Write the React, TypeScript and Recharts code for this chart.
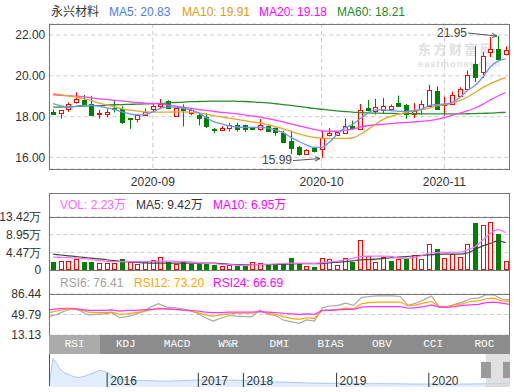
import React from 'react';
import {
  ComposedChart,
  AreaChart,
  Area,
  Bar,
  Line,
  XAxis,
  YAxis,
  CartesianGrid,
  ReferenceLine,
  ReferenceArea,
} from 'recharts';

// trading days shown in the window
const dates = [
  '2020-08-13', '2020-08-14', '2020-08-17', '2020-08-18', '2020-08-19', '2020-08-20', '2020-08-21', '2020-08-24',
  '2020-08-25', '2020-08-26', '2020-08-27', '2020-08-28', '2020-08-31', '2020-09-01', '2020-09-02', '2020-09-03',
  '2020-09-04', '2020-09-07', '2020-09-08', '2020-09-09', '2020-09-10', '2020-09-11', '2020-09-14', '2020-09-15',
  '2020-09-16', '2020-09-17', '2020-09-18', '2020-09-21', '2020-09-22', '2020-09-23', '2020-09-24', '2020-09-25',
  '2020-09-28', '2020-09-29', '2020-09-30', '2020-10-09', '2020-10-12', '2020-10-13', '2020-10-14', '2020-10-15',
  '2020-10-16', '2020-10-19', '2020-10-20', '2020-10-21', '2020-10-22', '2020-10-23', '2020-10-26', '2020-10-27',
  '2020-10-28', '2020-10-29', '2020-10-30', '2020-11-02', '2020-11-03', '2020-11-04', '2020-11-05', '2020-11-06',
  '2020-11-09', '2020-11-10', '2020-11-11', '2020-11-12',
];

const opens = [
  18.23, 18.17, 18.35, 18.71, 18.79, 18.64, 18.13, 18.15, 18.4, 18.35,
  17.92, 17.88, 18.07, 18.35, 18.51, 18.78, 18.02, 18.43, 18.18, 18.07,
  17.98, 17.39, 17.34, 17.45, 17.6, 17.6, 17.44, 17.39, 17.54, 17.42,
  17.18, 16.82, 16.52, 16.16, 16.46, 16.41, 17.1, 17.1, 17.19, 17.56,
  17.39, 18.43, 18.26, 18.33, 18.38, 18.67, 18.57, 18.13, 18.38, 18.5,
  19.25, 18.56, 18.62, 19.03, 19.36, 20.59, 20.18, 21.16, 21.3, 21.05,
];
const closes = [
  18.13, 18.3, 18.63, 18.84, 18.6, 18.1, 18.2, 18.23, 18.36, 17.72,
  17.88, 18.1, 18.23, 18.51, 18.64, 18.43, 18.4, 18.3, 18.3, 17.93,
  17.52, 17.34, 17.45, 17.6, 17.4, 17.39, 17.37, 17.59, 17.29, 17.26,
  16.74, 16.44, 16.16, 16.38, 16.29, 16.95, 17.18, 17.24, 17.55, 17.44,
  18.33, 18.33, 18.46, 18.52, 18.52, 18.54, 18.13, 18.26, 18.62, 19.3,
  18.36, 18.62, 19.07, 19.33, 20.02, 19.93, 20.98, 21.33, 20.8, 21.28,
];
const highs = [
  18.35, 18.31, 18.69, 19.19, 19.06, 19.02, 18.33, 18.38, 18.82, 18.51,
  17.93, 18.13, 18.4, 18.66, 18.86, 18.8, 18.43, 18.6, 18.43, 18.18,
  18.18, 17.44, 17.54, 17.7, 17.7, 17.6, 17.5, 17.88, 17.59, 17.47,
  17.31, 17.31, 16.57, 16.4, 16.52, 17.31, 17.44, 17.26, 17.91, 17.8,
  18.62, 18.82, 18.87, 18.92, 18.59, 19.03, 18.62, 18.66, 18.79, 19.56,
  19.48, 18.98, 19.23, 19.44, 20.26, 21.44, 21.16, 21.9, 21.95, 21.44,
];
const lows = [
  18.07, 17.9, 18.23, 18.64, 18.55, 18.07, 17.9, 17.97, 18.2, 17.64,
  17.4, 17.72, 18.02, 18.23, 18.38, 18.4, 18.0, 17.52, 18.07, 17.57,
  17.44, 17.19, 17.3, 17.27, 17.27, 17.24, 17.34, 17.31, 17.26, 17.06,
  16.7, 16.16, 16.08, 16.14, 16.24, 15.99, 17.03, 17.05, 17.18, 17.34,
  17.34, 18.26, 18.1, 18.13, 18.26, 18.46, 17.89, 17.93, 18.1, 18.48,
  18.33, 18.05, 18.59, 19.02, 19.28, 19.69, 19.9, 20.92, 20.75, 21.0,
];

const ma5 = [
  18.63, 18.53, 18.46, 18.5, 18.55, 18.55, 18.51, 18.43, 18.35, 18.23,
  18.13, 18.08, 18.1, 18.23, 18.4, 18.46, 18.46, 18.4, 18.33, 18.18,
  17.93, 17.74, 17.64, 17.55, 17.49, 17.47, 17.47, 17.48, 17.43, 17.34,
  17.21, 16.98, 16.79, 16.61, 16.49, 16.49, 16.74, 17.11, 17.44, 17.61,
  17.89, 18.16, 18.33, 18.33, 18.3, 18.26, 18.26, 18.3, 18.36, 18.54,
  18.59, 18.62, 18.69, 18.92, 19.28, 19.52, 19.93, 20.43, 20.72, 20.83,
];
const ma10 = [
  19.12, 19.07, 19.01, 18.96, 18.88, 18.78, 18.66, 18.57, 18.48, 18.38,
  18.32, 18.27, 18.23, 18.22, 18.22, 18.22, 18.23, 18.23, 18.21, 18.18,
  18.12, 18.05, 17.98, 17.92, 17.86, 17.8, 17.74, 17.69, 17.6, 17.5,
  17.4, 17.28, 17.16, 17.05, 16.98, 16.94, 16.93, 16.93, 16.93, 16.95,
  17.12, 17.36, 17.62, 17.85, 18.0, 18.12, 18.2, 18.27, 18.32, 18.42,
  18.52, 18.58, 18.66, 18.78, 18.95, 19.18, 19.42, 19.62, 19.78, 19.91,
];
const ma20 = [
  19.06, 19.04, 19.02, 19.0, 18.97, 18.92, 18.87, 18.84, 18.8, 18.77,
  18.72, 18.69, 18.66, 18.64, 18.62, 18.56, 18.51, 18.45, 18.4, 18.34,
  18.3, 18.25, 18.21, 18.17, 18.13, 18.08, 18.03, 17.97, 17.9, 17.82,
  17.74, 17.64, 17.55, 17.46, 17.37, 17.3, 17.28, 17.28, 17.32, 17.38,
  17.48, 17.55, 17.6, 17.62, 17.65, 17.69, 17.71, 17.74, 17.77, 17.8,
  17.86, 17.95, 18.06, 18.17, 18.28, 18.42, 18.6, 18.82, 19.01, 19.18,
];
const ma60 = [
  18.46, 18.47, 18.48, 18.5, 18.52, 18.53, 18.54, 18.56, 18.58, 18.59,
  18.6, 18.61, 18.62, 18.64, 18.65, 18.67, 18.69, 18.71, 18.73, 18.74,
  18.75, 18.76, 18.76, 18.76, 18.75, 18.74, 18.72, 18.7, 18.67, 18.63,
  18.59, 18.55, 18.5, 18.45, 18.4, 18.36, 18.32, 18.28, 18.25, 18.22,
  18.2, 18.18, 18.17, 18.16, 18.16, 18.15, 18.15, 18.14, 18.14, 18.13,
  18.13, 18.13, 18.13, 18.13, 18.14, 18.15, 18.16, 18.17, 18.19, 18.21,
];

// volume in 万 shares, with bar colour (1 = red hollow, 0 = green)
const volumes = [
  2.08, 2.25, 2.25, 2.75, 2.08, 2.08, 1.75, 1.75, 1.67, 2.84,
  1.92, 1.5, 1.92, 2.5, 3.25, 1.92, 1.5, 2.08, 1.58, 1.58,
  1.58, 1.33, 1.0, 1.25, 1.08, 1.08, 2.0, 1.75, 1.42, 1.42,
  1.83, 3.09, 1.58, 1.0, 0.83, 3.0, 2.84, 1.33, 3.0, 2.0,
  7.59, 3.42, 2.0, 3.34, 2.34, 2.84, 2.75, 3.75, 2.84, 6.5,
  5.34, 3.09, 4.0, 3.34, 6.5, 11.84, 11.5, 12.1, 9.09, 2.23,
];
const volUp = [
  0, 1, 1, 1, 0, 0, 1, 1, 1, 0,
  1, 1, 1, 1, 1, 0, 1, 0, 0, 0,
  0, 0, 1, 1, 0, 0, 1, 1, 0, 0,
  0, 0, 0, 1, 0, 1, 1, 1, 1, 0,
  1, 1, 1, 1, 0, 1, 0, 1, 1, 1,
  0, 1, 1, 1, 1, 0, 1, 1, 0, 1,
];
const volMa5 = [
  3.25, 3.2, 3.1, 3.0, 2.9, 2.6, 2.4, 2.2, 2.1, 2.1,
  2.1, 2.1, 2.1, 2.2, 2.25, 2.25, 2.2, 2.17, 2.0, 1.85,
  1.7, 1.6, 1.45, 1.35, 1.25, 1.2, 1.3, 1.4, 1.45, 1.55,
  1.65, 1.75, 1.75, 1.75, 1.7, 1.85, 2.05, 2.2, 2.6, 2.9,
  3.4, 3.5, 3.5, 3.5, 3.45, 3.0, 2.95, 3.15, 3.6, 4.3,
  4.42, 4.45, 4.5, 4.5, 5.1, 5.9, 7.6, 9.26, 10.2, 9.42,
];
const volMa10 = [
  4.0, 3.8, 3.6, 3.4, 3.2, 3.0, 2.8, 2.6, 2.35, 2.15,
  2.0, 1.9, 1.8, 1.75, 1.75, 1.75, 1.75, 1.75, 1.75, 1.75,
  1.75, 1.72, 1.6, 1.45, 1.38, 1.33, 1.33, 1.33, 1.35, 1.38,
  1.45, 1.55, 1.58, 1.58, 1.58, 1.62, 1.8, 1.95, 2.1, 2.3,
  2.55, 2.65, 2.75, 2.9, 3.1, 3.25, 3.4, 3.55, 3.7, 3.84,
  3.95, 4.0, 4.0, 4.0, 4.3, 5.2, 6.1, 6.76, 7.3, 6.95,
];

const rsi6 = [
  46, 50, 56, 60, 56, 49, 50, 51, 53, 44,
  46, 50, 55, 63, 69, 63, 62, 60, 57, 52,
  44, 38, 43, 48, 47, 46, 46, 58, 50, 48,
  40, 37, 34, 40, 38, 62, 65, 66, 70, 66,
  80, 82, 83, 83, 83, 82, 66, 70, 76, 83,
  63, 63, 68, 72, 78, 79, 85, 85, 77, 76.41,
];
const rsi12 = [
  53, 56, 59, 60, 58, 54, 53, 53, 54, 50,
  51, 53, 55, 58, 61, 60, 59, 58, 56, 53,
  49, 47, 49, 51, 52, 52, 52, 56, 52, 50,
  46, 43, 41, 44, 43, 57, 58, 59, 61, 60,
  69, 71, 72, 72, 72, 72, 65, 67, 70, 73,
  64, 64, 67, 69, 73, 74, 78, 79, 74, 73.2,
];
const rsi24 = [
  58, 60, 61, 61, 59, 57, 57, 57, 58, 56,
  57, 57, 58, 59, 60, 60, 59, 58, 57, 56,
  54, 53, 53, 54, 54, 54, 54, 55, 54, 53,
  52, 51, 50, 51, 50, 57, 57, 58, 59, 59,
  63, 64, 64, 64, 64, 64, 61, 62, 64, 67,
  63, 63, 64, 66, 67, 68, 71, 72, 70, 68,
];

// long-range overview strip (position along the strip, relative level)
const navPos = [
  0, 0.4, 0.8, 1.1, 1.5, 2, 2.5, 3, 3.5, 4, 4.5, 5, 5.5, 6, 6.5, 7, 8, 9, 10, 11, 12, 13, 14, 15,
  16, 17, 18, 19, 20, 22, 24, 26, 28, 30, 32, 34, 36, 38, 40, 42, 44, 45, 46,
];
const navLevel = [
  4, 87, 70, 54, 44, 37, 31, 29, 32, 38, 44, 50, 48, 41, 31, 25, 21, 20, 19, 18, 18, 19, 20, 21,
  21, 21, 21, 20, 19, 16, 14, 12, 11, 11, 10, 10, 9, 9, 9, 9, 10, 11, 12,
];
const navYears = ['2016', '2017', '2018', '2019', '2020'];
const navYearPos = [5.8, 14.9, 19.4, 28.7, 37.9];

const monthTicks = ['2020-09-01', '2020-10-09', '2020-11-02'];
const priceTicks = [16, 18, 20, 22];
const volTicks = [0, 4.47, 8.95, 13.42];
const rsiTicks = [13.13, 49.79, 86.44];
const tabs = ['RSI', 'KDJ', 'MACD', 'W%R', 'DMI', 'BIAS', 'OBV', 'CCI', 'ROC'];

const RED = '#ff0000';
const GREEN = '#008000';
const FRAME = '#777';
const GRID = '#ccc';
const FONT = 'Arial, "Liberation Sans", sans-serif';
const CJK = 'Arial, "Liberation Sans", "Noto Sans CJK SC", sans-serif';

const rows = dates.map((date, i) => ({
  date,
  open: opens[i],
  high: highs[i],
  low: lows[i],
  close: closes[i],
  ma5: ma5[i],
  ma10: ma10[i],
  ma20: ma20[i],
  ma60: ma60[i],
  vol: volumes[i],
  up: volUp[i] === 1,
  vma5: volMa5[i],
  vma10: volMa10[i],
  rsi6: rsi6[i],
  rsi12: rsi12[i],
  rsi24: rsi24[i],
}));

const navData = navPos.map((t, i) => ({ t, v: navLevel[i] }));

const maxHigh = Math.max(...highs);
const minLow = Math.min(...lows);

function Candle(props: any) {
  const { x, y, width, height, payload } = props;
  if (!payload || height == null) return null;
  const { open, close, high, low } = payload;
  const top = Math.min(y, y + height);
  const k = Math.abs(height) / (high - low || 1);
  const py = (v: number) => top + (high - v) * k;
  const cx = Math.round(x + width / 2);
  const up = close >= open;
  const c = up ? RED : GREEN;
  const yH = py(high);
  const yL = py(low);
  const bt = Math.round(py(Math.max(open, close)));
  const bb = Math.max(Math.round(py(Math.min(open, close))), bt + 1);

  return (
    <g>
      {up ? (
        <>
          <line x1={cx + 0.5} x2={cx + 0.5} y1={yH} y2={bt} stroke={c} />
          <line x1={cx + 0.5} x2={cx + 0.5} y1={bb} y2={yL} stroke={c} />
          <rect x={cx - 1.5} y={bt + 0.5} width={4} height={bb - bt} fill="#fff" stroke={c} />
        </>
      ) : (
        <>
          <line x1={cx + 0.5} x2={cx + 0.5} y1={yH} y2={yL} stroke={c} />
          <rect x={cx - 2} y={bt} width={5} height={bb - bt + 1} fill={c} />
        </>
      )}
      {high === maxHigh && (
        <g stroke="#555" fill="none">
          <line x1={cx - 30} y1={yH - 3} x2={cx - 1} y2={yH} />
          <polyline points={`${cx - 6},${yH - 3} ${cx - 1},${yH} ${cx - 6},${yH + 1.5}`} />
          <text x={cx - 31} y={yH + 1} textAnchor="end" fontSize={12} fill="#444" stroke="none" fontFamily={FONT}>
            {high.toFixed(2)}
          </text>
        </g>
      )}
      {low === minLow && (
        <g stroke="#555" fill="none">
          <line x1={cx - 29} y1={yL + 3} x2={cx - 2} y2={yL + 1} />
          <polyline points={`${cx - 7},${yL - 1} ${cx - 2},${yL + 1} ${cx - 7},${yL + 3.5}`} />
          <text x={cx - 30} y={yL + 6} textAnchor="end" fontSize={12} fill="#444" stroke="none" fontFamily={FONT}>
            {low.toFixed(2)}
          </text>
        </g>
      )}
    </g>
  );
}

function VolBar(props: any) {
  const { x, y, width, height, payload } = props;
  if (!payload || height == null) return null;
  const cx = Math.round(x + width / 2);
  const top = Math.round(y);
  const bottom = Math.round(y + height);
  if (payload.up) {
    return (
      <rect x={cx - 1.5} y={top + 0.5} width={4} height={Math.max(bottom - top - 1, 1)} fill="#fff" stroke={RED} />
    );
  }
  return <rect x={cx - 2} y={top} width={5} height={bottom - top} fill={GREEN} />;
}

function YearLabel(props: any) {
  const { viewBox, value } = props;
  if (!viewBox) return null;
  return (
    <text x={viewBox.x + 3} y={viewBox.y + viewBox.height - 2} fontSize={12} fill="#333" fontFamily={FONT}>
      {value}
    </text>
  );
}

const tickStyle = { fill: '#333', fontSize: 12, fontFamily: FONT };

function Label({ left, top, color, children }: { left: number; top: number; color: string; children: React.ReactNode }) {
  return (
    <span
      style={{
        position: 'absolute',
        left,
        top,
        color,
        fontSize: 12,
        lineHeight: '14px',
        whiteSpace: 'nowrap',
        fontFamily: CJK,
      }}
    >
      {children}
    </span>
  );
}

function HLine({ top }: { top: number }) {
  return <div style={{ position: 'absolute', left: 49, top, width: 461, height: 1, background: FRAME }} />;
}

export default function App() {
  return (
    <div
      style={{
        position: 'absolute',
        left: 0,
        top: 0,
        width: 514,
        height: 392,
        background: '#fff',
        overflow: 'hidden',
        fontFamily: FONT,
      }}
    >
      {/* watermark */}
      <div
        style={{
          position: 'absolute',
          left: 418,
          top: 42,
          fontSize: 13,
          fontWeight: 'bold',
          letterSpacing: 2.5,
          color: '#e0e0e0',
          fontFamily: '"Noto Sans CJK SC", sans-serif',
          lineHeight: '13px',
        }}
      >
        东方财富网
      </div>
      <div
        style={{
          position: 'absolute',
          left: 418,
          top: 59,
          fontSize: 9.5,
          fontWeight: 'bold',
          letterSpacing: 0.9,
          color: '#e0e0e0',
          lineHeight: '9px',
        }}
      >
        eastmoney.com
      </div>

      {/* title row */}
      <Label left={51} top={5} color="#333">永兴材料</Label>
      <Label left={109} top={5} color="#4d7cf6">MA5: 20.83</Label>
      <Label left={182} top={5} color="#e39a12">MA10: 19.91</Label>
      <Label left={259} top={5} color="#f0f">MA20: 19.18</Label>
      <Label left={337} top={5} color="#1a8a1a">MA60: 18.21</Label>

      {/* price panel */}
      <div style={{ position: 'absolute', left: 0, top: 0 }}>
        <ComposedChart width={514} height={190} data={rows} margin={{ top: 24, right: 4.5, left: 0, bottom: 0 }}>
          <CartesianGrid stroke={GRID} strokeDasharray="4 3" />
          <XAxis
            dataKey="date"
            ticks={monthTicks}
            interval={0}
            tickFormatter={(d: string) => d.slice(0, 7)}
            axisLine={false}
            tickLine={false}
            height={21}
            tick={tickStyle}
          />
          <YAxis
            domain={[15.43, 22.54]}
            ticks={priceTicks}
            interval={0}
            allowDataOverflow
            width={49.3}
            axisLine={false}
            tickLine={false}
            tickSize={2}
            tickMargin={2}
            tick={tickStyle}
            tickFormatter={(v: number) => v.toFixed(2)}
          />
          <Bar
            dataKey={(d: any) => [d.low, d.high]}
            shape={(p: any) => <Candle {...p} />}
            isAnimationActive={false}
          />
          <Line type="monotone" dataKey="ma60" stroke="#2a8f2a" strokeWidth={1.3} dot={false} isAnimationActive={false} />
          <Line type="monotone" dataKey="ma20" stroke="#ff40ff" strokeWidth={1.3} dot={false} isAnimationActive={false} />
          <Line type="monotone" dataKey="ma10" stroke="#e9a42a" strokeWidth={1.3} dot={false} isAnimationActive={false} />
          <Line type="monotone" dataKey="ma5" stroke="#6a94f5" strokeWidth={1.3} dot={false} isAnimationActive={false} />
        </ComposedChart>
      </div>
      <div
        style={{
          position: 'absolute',
          left: 49,
          top: 24,
          width: 461,
          height: 146,
          border: `1px solid ${FRAME}`,
          boxSizing: 'border-box',
        }}
      />

      {/* volume panel */}
      <div style={{ position: 'absolute', left: 0, top: 193 }}>
        <ComposedChart width={514} height={86} data={rows} margin={{ top: 24, right: 4.5, left: 0, bottom: 9 }}>
          <CartesianGrid stroke={GRID} strokeDasharray="4 3" />
          <XAxis
            dataKey="date"
            ticks={monthTicks}
            interval={0}
            height={0}
            tick={false}
            axisLine={false}
            tickLine={false}
          />
          <YAxis
            domain={[0, 13.42]}
            ticks={volTicks}
            interval={0}
            allowDataOverflow
            width={49.3}
            axisLine={false}
            tickLine={false}
            tick={tickStyle}
            tickFormatter={(v: number) => (v === 0 ? '0' : `${v.toFixed(2)}万`)}
          />
          <Bar dataKey="vol" shape={(p: any) => <VolBar {...p} />} isAnimationActive={false} />
          <Line type="monotone" dataKey="vma10" stroke="#444" strokeWidth={1.2} dot={false} isAnimationActive={false} />
          <Line type="monotone" dataKey="vma5" stroke="#ff70ff" strokeWidth={1.2} dot={false} isAnimationActive={false} />
        </ComposedChart>
      </div>
      <Label left={60} top={198} color="#ff66ff">VOL: 2.23万</Label>
      <Label left={136} top={198} color="#333">MA5: 9.42万</Label>
      <Label left={213} top={198} color="#f0f">MA10: 6.95万</Label>

      {/* RSI panel */}
      <div style={{ position: 'absolute', left: 0, top: 270 }}>
        <ComposedChart width={514} height={73} data={rows} margin={{ top: 24, right: 4.5, left: 0, bottom: 8 }}>
          <CartesianGrid stroke={GRID} strokeDasharray="4 3" />
          <XAxis
            dataKey="date"
            ticks={monthTicks}
            interval={0}
            height={0}
            tick={false}
            axisLine={false}
            tickLine={false}
          />
          <YAxis
            domain={[13.13, 86.44]}
            ticks={rsiTicks}
            interval={0}
            allowDataOverflow
            width={49.3}
            axisLine={false}
            tickLine={false}
            tick={tickStyle}
            tickFormatter={(v: number) => v.toFixed(2)}
          />
          <Line type="linear" dataKey="rsi6" stroke="#a8a8a8" strokeWidth={1.2} dot={false} isAnimationActive={false} />
          <Line type="linear" dataKey="rsi12" stroke="#ffa500" strokeWidth={1.2} dot={false} isAnimationActive={false} />
          <Line type="linear" dataKey="rsi24" stroke="#ff33ff" strokeWidth={1.2} dot={false} isAnimationActive={false} />
        </ComposedChart>
      </div>
      <Label left={60} top={276} color="#a0a0a0">RSI6: 76.41</Label>
      <Label left={134} top={276} color="#ffa500">RSI12: 73.20</Label>
      <Label left={213} top={276} color="#f0f">RSI24: 66.69</Label>

      {/* lower frame */}
      <div
        style={{
          position: 'absolute',
          left: 49,
          top: 193,
          width: 461,
          height: 143,
          border: `1px solid ${FRAME}`,
          boxSizing: 'border-box',
        }}
      />
      <HLine top={217} />
      <HLine top={270} />
      <HLine top={294} />

      {/* indicator tabs */}
      <div
        style={{
          position: 'absolute',
          left: 49,
          top: 335,
          width: 461,
          height: 19,
          background: '#8c8c8c',
          display: 'flex',
        }}
      >
        {tabs.map((t, i) => (
          <div
            key={t}
            style={{
              flex: 1,
              background: i === 0 ? '#ababab' : 'transparent',
              color: '#fff',
              fontSize: 11,
              lineHeight: '19px',
              textAlign: 'center',
              fontFamily: '"Liberation Mono", monospace',
            }}
          >
            {t}
          </div>
        ))}
      </div>

      {/* overview strip */}
      <div style={{ position: 'absolute', left: 49, top: 354 }}>
        <AreaChart width={461} height={33} data={navData} margin={{ top: 0, right: 0, left: 0, bottom: 0 }}>
          <XAxis type="number" dataKey="t" domain={[0, 46]} hide />
          <YAxis domain={[0, 100]} hide />
          <Area
            type="linear"
            dataKey="v"
            stroke="#a9c9f2"
            strokeWidth={1}
            fill="#e2edfb"
            fillOpacity={1}
            isAnimationActive={false}
          />
          {navYears.map((y, i) => (
            <ReferenceLine
              key={y}
              segment={[
                { x: navYearPos[i], y: 0 },
                { x: navYearPos[i], y: 43 },
              ]}
              stroke="#333"
              label={<YearLabel value={y} />}
            />
          ))}
          <ReferenceArea x1={43.6} x2={46} y1={0} y2={100} fill="#d6d6d6" fillOpacity={0.75} stroke="none" />
          <ReferenceArea x1={43.1} x2={44.1} y1={27} y2={76} fill="#9a9a9a" fillOpacity={1} stroke="none" />
          <ReferenceArea x1={45.3} x2={46} y1={27} y2={76} fill="#9a9a9a" fillOpacity={1} stroke="none" />
        </AreaChart>
      </div>
      <div style={{ position: 'absolute', left: 49, top: 354, width: 1, height: 32, background: '#555' }} />
    </div>
  );
}
